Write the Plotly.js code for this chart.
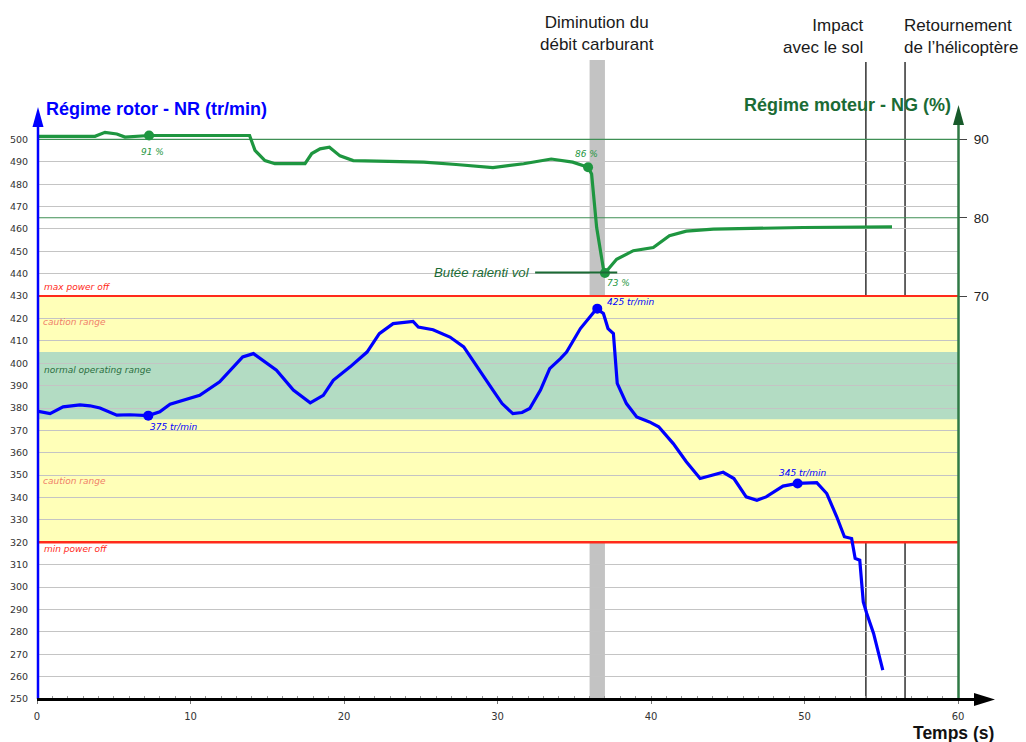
<!DOCTYPE html>
<html>
<head>
<meta charset="utf-8">
<script src="https://cdn.plot.ly/plotly-3.0.1.min.js"></script>
<style>html,body{margin:0;padding:0;background:#fff}#chart{width:1026px;height:742px}</style>
</head>
<body>
<div id="chart"></div>
<script>
// ---- Data ----
const nrTime = [0, 0.85, 1.7, 2.8, 3.45, 4.1, 5.2, 6.06, 7.25, 8.0,
  8.67, 9.43, 10.6, 11.9, 12.8, 13.4, 14.1, 14.74, 15.6, 16.7,
  17.8, 18.65, 19.3, 20.4, 21.5, 22.3, 23.2, 24.5, 24.84, 25.8,
  26.9, 27.8, 28.65, 29.7, 30.3, 31.0, 31.6, 32.1, 32.8, 33.4,
  34.1, 34.5, 35.4, 36.1, 36.46, 36.9, 37.2, 37.55, 37.8, 38.4,
  39.07, 39.9, 40.5, 41.45, 42.3, 43.2, 44.0, 44.7, 45.4, 46.2,
  46.9, 47.5, 48.6, 49.55, 50.8, 51.45, 52.1, 52.6, 53.07, 53.3,
  53.6, 53.83, 54.05, 54.5, 55.1];
const nrValue = [378.6, 377.5, 380.5, 381.4, 381.0, 380.0, 376.8, 377.0, 376.6, 378.3,
  381.7, 383.2, 385.7, 391.7, 398.4, 402.8, 404.3, 401.3, 396.9, 388.0,
  382.3, 385.7, 392.4, 398.4, 405.0, 413.2, 417.7, 418.7, 416.2, 415.0,
  411.7, 407.3, 398.4, 388.0, 382.0, 377.5, 378.0, 379.8, 388.0, 397.6,
  402.1, 405.0, 415.5, 421.5, 424.4, 422.2, 415.5, 413.3, 391.0, 382.0,
  376.0, 373.8, 371.6, 364.1, 356.0, 348.5, 350.0, 351.3, 348.5, 340.3,
  338.8, 340.3, 345.1, 346.3, 346.7, 341.8, 331.4, 322.5, 321.7, 312.8,
  312.0, 293.4, 288.3, 279.3, 262.9];

const ngTime = [0, 3.78, 4.43, 5.2, 5.73, 7.3, 8.45, 13.85, 14.2, 14.85,
  15.5, 17.46, 17.9, 18.44, 19.05, 19.74, 20.6, 23.0, 25.2, 27.3,
  29.7, 31.7, 33.5, 34.9, 35.9, 36.13, 36.46, 36.89, 37.0, 37.76,
  38.85, 40.15, 41.2, 42.3, 44.06, 49.9, 55.7];
const ngValue = [90.4, 90.4, 90.9, 90.7, 90.3, 90.5, 90.5, 90.5, 88.6, 87.3,
  86.9, 86.9, 88.2, 88.8, 89.0, 87.9, 87.3, 87.2, 87.1, 86.8,
  86.4, 86.9, 87.5, 87.1, 86.45, 85.6, 78.75, 73.6, 72.95, 74.7,
  75.8, 76.2, 77.7, 78.3, 78.55, 78.76, 78.85];

const nrMarkTime = [7.25, 36.5, 49.55];
const nrMarkValue = [376.6, 424.4, 346.3];
const nrMarkLabel = ['375 tr/min', '425 tr/min', '345 tr/min'];

const ngMarkTime = [7.3, 35.9, 37.0];
const ngMarkValue = [90.5, 86.45, 72.95];
const ngMarkLabel = ['91 %', '86 %', '73 %'];

const nrTicks = [250, 260, 270, 280, 290, 300, 310, 320, 330, 340, 350, 360, 370, 380, 390, 400, 410, 420, 430, 440, 450, 460, 470, 480, 490, 500];
const ngTicks = [70, 80, 90];
const timeTicks = [0, 10, 20, 30, 40, 50, 60];

const maxPowerOff = 430;
const minPowerOff = 320;
const normalRange = [375, 405];
const idleStop = 73;
const fuelCut = [36, 37];
const impactTime = 54.0;
const rolloverTime = 56.55;

// ---- Layout helpers ----
const W = 1026, H = 742;
const M = {l: 37, r: 68, t: 126, b: 43};
const pw = W - M.l - M.r, ph = H - M.t - M.b;
const px = x => (x - M.l) / pw;
const py = y => (H - M.b - y) / ph;
const nrRange = [250, 506];
const nrPerNg = 3.5; // 500 tr/min <-> 90 %, 430 tr/min <-> 70 %
const ngOf = nr => 90 - (500 - nr) / nrPerNg;
const nrOf = ng => 500 - (90 - ng) * nrPerNg;
const ngRange = [ngOf(nrRange[0]), ngOf(nrRange[1])];

const BLUE = '#0000ff';
const GREEN = '#1e9640';
const DKGREEN = '#1b6b35';
const AXGREEN = '#2f7a45';
const GRIDGREEN = '#3f8f55';
const RED = '#ff2a1a';

const traces = [
  {x: nrTime, y: nrValue, type: 'scatter', mode: 'lines', yaxis: 'y',
   line: {color: BLUE, width: 3.2}, hoverinfo: 'skip'},
  {x: nrMarkTime, y: nrMarkValue, type: 'scatter', mode: 'markers', yaxis: 'y',
   marker: {color: BLUE, size: 10}, hoverinfo: 'skip'},
  {x: ngTime, y: ngValue, type: 'scatter', mode: 'lines', yaxis: 'y2',
   line: {color: GREEN, width: 3.2}, hoverinfo: 'skip'},
  {x: ngMarkTime, y: ngMarkValue, type: 'scatter', mode: 'markers', yaxis: 'y2',
   marker: {color: GREEN, size: 10}, hoverinfo: 'skip'}
];

const shapes = [
  // caution band
  {type: 'rect', xref: 'x', yref: 'y', x0: 0, x1: 60, y0: minPowerOff, y1: maxPowerOff,
   fillcolor: '#ffffb8', line: {width: 0}, layer: 'below'},
  // normal operating range
  {type: 'rect', xref: 'x', yref: 'y', x0: 0, x1: 60, y0: normalRange[0], y1: normalRange[1],
   fillcolor: '#b3dcc3', line: {width: 0}, layer: 'below'},
  // fuel reduction band
  {type: 'rect', xref: 'x', yref: 'paper', x0: fuelCut[0], x1: fuelCut[1], y0: 0, y1: py(60),
   fillcolor: 'rgba(135,135,135,0.5)', line: {width: 0}, layer: 'below'}
];
// NG grid lines (green), drawn on the NR scale
ngTicks.forEach(v => shapes.push({type: 'line', xref: 'x', yref: 'y', x0: 0, x1: 60,
  y0: nrOf(v), y1: nrOf(v), line: {color: GRIDGREEN, width: 1.2}, layer: 'between'}));
shapes.push(
  // event lines
  {type: 'line', xref: 'x', yref: 'paper', x0: impactTime, x1: impactTime, y0: 0, y1: py(62),
   line: {color: '#111', width: 1.3}, layer: 'between'},
  {type: 'line', xref: 'x', yref: 'paper', x0: rolloverTime, x1: rolloverTime, y0: 0, y1: py(62),
   line: {color: '#111', width: 1.3}, layer: 'between'},
  // power off limits
  {type: 'line', xref: 'x', yref: 'y', x0: 0, x1: 60, y0: maxPowerOff, y1: maxPowerOff,
   line: {color: RED, width: 2}, layer: 'between'},
  {type: 'line', xref: 'x', yref: 'y', x0: 0, x1: 60, y0: minPowerOff, y1: minPowerOff,
   line: {color: RED, width: 2.5}, layer: 'between'},
  // idle stop line
  {type: 'line', xref: 'x', yref: 'y2', x0: 32.45, x1: 37.8, y0: idleStop, y1: idleStop,
   line: {color: DKGREEN, width: 2}, layer: 'above'},
  // left axis with arrow
  {type: 'line', xref: 'paper', yref: 'paper', x0: px(38), x1: px(38), y0: 0, y1: py(122),
   line: {color: BLUE, width: 2.5}, layer: 'above'},
  {type: 'path', xref: 'paper', yref: 'paper',
   path: `M ${px(38)},${py(107)} L ${px(32.5)},${py(127)} L ${px(43.5)},${py(127)} Z`,
   fillcolor: BLUE, line: {width: 0}, layer: 'above'},
  // right axis with arrow
  {type: 'line', xref: 'paper', yref: 'paper', x0: px(958.5), x1: px(958.5), y0: 0, y1: py(120),
   line: {color: AXGREEN, width: 2.5}, layer: 'above'},
  {type: 'path', xref: 'paper', yref: 'paper',
   path: `M ${px(958.5)},${py(105)} L ${px(953)},${py(125)} L ${px(964)},${py(125)} Z`,
   fillcolor: '#175a2a', line: {width: 0}, layer: 'above'},
  // x axis with arrow
  {type: 'line', xref: 'paper', yref: 'paper', x0: px(37), x1: px(978), y0: py(699.5), y1: py(699.5),
   line: {color: '#000', width: 2.8}, layer: 'above'},
  {type: 'path', xref: 'paper', yref: 'paper',
   path: `M ${px(995)},${py(699.5)} L ${px(974)},${py(693)} L ${px(974)},${py(706)} Z`,
   fillcolor: '#000', line: {width: 0}, layer: 'above'}
);

const italic = (size, color, family) => ({family: family || 'DejaVu Sans', size: size, color: color, style: 'italic'});
const topFont = {family: 'Liberation Sans, Arial, sans-serif', size: 17, color: '#1a1a1a'};

const annotations = [
  // axis titles
  {xref: 'paper', yref: 'paper', x: px(44), y: py(109), xanchor: 'left', yanchor: 'middle',
   text: 'Régime rotor - NR (tr/min)', showarrow: false,
   font: {family: 'Liberation Sans, Arial, sans-serif', size: 18, color: BLUE, weight: 'bold'}},
  {xref: 'paper', yref: 'paper', x: px(953), y: py(105), xanchor: 'right', yanchor: 'middle',
   text: 'Régime moteur - NG (%)', showarrow: false,
   font: {family: 'Liberation Sans, Arial, sans-serif', size: 18, color: DKGREEN, weight: 'bold'}},
  {xref: 'paper', yref: 'paper', x: px(996), y: py(733), xanchor: 'right', yanchor: 'middle',
   text: 'Temps (s)', showarrow: false,
   font: {family: 'Liberation Sans, Arial, sans-serif', size: 17.5, color: '#111', weight: 'bold'}},
  // event texts
  {xref: 'x', yref: 'paper', x: (fuelCut[0] + fuelCut[1]) / 2, y: py(33), xanchor: 'center', yanchor: 'middle',
   text: 'Diminution du<br>débit carburant', showarrow: false, align: 'center', font: topFont},
  {xref: 'x', yref: 'paper', x: impactTime, y: py(37), xanchor: 'right', yanchor: 'middle',
   text: 'Impact<br>avec le sol', showarrow: false, align: 'right', font: topFont},
  {xref: 'x', yref: 'paper', x: 56.35, y: py(37), xanchor: 'left', yanchor: 'middle',
   text: 'Retournement<br>de l’hélicoptère', showarrow: false, align: 'left', font: topFont},
  // zone labels
  {xref: 'x', yref: 'y', x: 0.3, y: 434, xanchor: 'left', yanchor: 'middle', showarrow: false,
   text: 'max power off', font: italic(9, RED)},
  {xref: 'x', yref: 'y', x: 0.25, y: 418.4, xanchor: 'left', yanchor: 'middle', showarrow: false,
   text: 'caution range', font: italic(9, '#f08068')},
  {xref: 'x', yref: 'y', x: 0.35, y: 396.8, xanchor: 'left', yanchor: 'middle', showarrow: false,
   text: 'normal operating range', font: italic(9, '#2a6e40')},
  {xref: 'x', yref: 'y', x: 0.25, y: 347.6, xanchor: 'left', yanchor: 'middle', showarrow: false,
   text: 'caution range', font: italic(9, '#f08068')},
  {xref: 'x', yref: 'y', x: 0.35, y: 316.8, xanchor: 'left', yanchor: 'middle', showarrow: false,
   text: 'min power off', font: italic(9, RED)},
  // idle stop label
  {xref: 'x', yref: 'y2', x: 32.25, y: idleStop, xanchor: 'right', yanchor: 'middle', showarrow: false,
   text: 'Butée ralenti vol', font: italic(13.2, DKGREEN, 'Liberation Sans, Arial, sans-serif')},
  // marker labels NR
  {xref: 'x', yref: 'y', x: 7.2, y: 371.4, xanchor: 'left', yanchor: 'middle', showarrow: false,
   text: nrMarkLabel[0], font: italic(9, BLUE)},
  {xref: 'x', yref: 'y', x: 37.0, y: 427.4, xanchor: 'left', yanchor: 'middle', showarrow: false,
   text: nrMarkLabel[1], font: italic(9, BLUE)},
  {xref: 'x', yref: 'y', x: 49.9, y: 350.9, xanchor: 'center', yanchor: 'middle', showarrow: false,
   text: nrMarkLabel[2], font: italic(9, BLUE)},
  // marker labels NG
  {xref: 'x', yref: 'y', x: 7.5, y: 494.2, xanchor: 'center', yanchor: 'middle', showarrow: false,
   text: ngMarkLabel[0], font: italic(9, GREEN)},
  {xref: 'x', yref: 'y', x: 35.8, y: 493.3, xanchor: 'center', yanchor: 'middle', showarrow: false,
   text: ngMarkLabel[1], font: italic(9, GREEN)},
  {xref: 'x', yref: 'y', x: 37.9, y: 435.8, xanchor: 'center', yanchor: 'middle', showarrow: false,
   text: ngMarkLabel[2], font: italic(9, GREEN)}
];

const layout = {
  width: W, height: H, autosize: false,
  margin: M,
  paper_bgcolor: '#ffffff', plot_bgcolor: 'rgba(0,0,0,0)',
  showlegend: false,
  xaxis: {
    range: [0, 60], tickvals: timeTicks, ticktext: timeTicks.map(String),
    showgrid: false, zeroline: false, showline: false,
    ticks: 'outside', ticklen: 4, tickcolor: '#777', tickwidth: 1,
    ticklabelstandoff: 4,
    minor: {dtick: 1, ticks: 'inside', ticklen: 3, tickcolor: '#999', showgrid: false},
    tickfont: {family: 'DejaVu Sans', size: 10, color: '#333'}
  },
  yaxis: {
    range: nrRange, tickvals: nrTicks, ticktext: nrTicks.map(String),
    showgrid: true, gridcolor: '#c4c4c4', gridwidth: 1,
    zeroline: false, showline: false,
    ticks: 'outside', ticklen: 6, tickcolor: 'rgba(0,0,0,0)',
    tickfont: {family: 'DejaVu Sans', size: 9.5, color: '#333'}
  },
  yaxis2: {
    overlaying: 'y', side: 'right', range: ngRange,
    tickvals: ngTicks, ticktext: ngTicks.map(String),
    showgrid: false,
    zeroline: false, showline: false,
    ticks: 'outside', ticklen: 8, tickcolor: '#444', tickwidth: 1,
    ticklabelstandoff: 4,
    tickfont: {family: 'Liberation Sans, Arial, sans-serif', size: 13.5, color: '#222'}
  },
  shapes: shapes,
  annotations: annotations
};

Plotly.newPlot('chart', traces, layout, {displayModeBar: false, staticPlot: true});
</script>
</body>
</html>
